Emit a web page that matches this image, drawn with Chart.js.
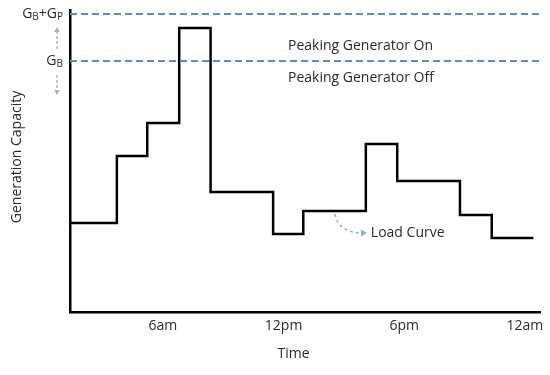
<!DOCTYPE html>
<html>
<head>
<meta charset="utf-8">
<script src="https://cdn.jsdelivr.net/npm/chart.js@4.4.1/dist/chart.umd.min.js"></script>
<style>
  html, body { margin: 0; padding: 0; background: #ffffff; }
  #wrap { width: 550px; height: 375px; }
</style>
</head>
<body>
<div id="wrap"><canvas id="c" width="550" height="375"></canvas></div>
<script>
// ---- data ----
const stepHours = [1.38, 3.71, 5.22, 6.81, 8.37, 11.48, 12.98, 16.09, 17.65, 20.77, 22.35, 24.42];
const loadValues = [8.9, 15.6, 18.9, 28.4, 12.0, 7.8, 10.1, 16.8, 13.1, 9.7, 7.4, 7.4];
const tickHours = [6, 12, 18, 24];
const tickLabels = ['6am', '12pm', '6pm', '12am'];
const baseCapacity = 25.1;      // G_B
const peakCapacity = 29.8;      // G_B + G_P
const hourRange = [1.38, 24.75];
const capacityRange = [0, 30.2];
const xTitle = 'Time';
const yTitle = 'Generation Capacity';
const noteOn = 'Peaking Generator On';
const noteOff = 'Peaking Generator Off';
const noteLoad = 'Load Curve';

const FONT = '"Open Sans", "Noto Sans", sans-serif';
const TXT = '#2b2b2b';
const BLUE = '#5b8dc6';

const loadPoints = stepHours.map((h, i) => ({ x: h, y: loadValues[i] }));
const hline = v => [{ x: hourRange[0], y: v }, { x: hourRange[1], y: v }];

function arrowHead(ctx, x, y, ang, size) {
  ctx.save();
  ctx.translate(x, y);
  ctx.rotate(ang);
  ctx.beginPath();
  ctx.moveTo(0, 0);
  ctx.lineTo(-size, -size * 0.6);
  ctx.lineTo(-size, size * 0.6);
  ctx.closePath();
  ctx.fill();
  ctx.restore();
}

const annotate = {
  id: 'annotate',
  afterDraw(chart) {
    const ctx = chart.ctx;
    const xs = chart.scales.x, ys = chart.scales.y;
    const ca = chart.chartArea;
    const X = v => xs.getPixelForValue(v);
    const Y = v => ys.getPixelForValue(v);
    ctx.save();
    ctx.fillStyle = TXT;
    ctx.textBaseline = 'middle';

    // y tick labels with subscripts
    function subLabel(parts, rightX, y) {
      let w = 0;
      parts.forEach(p => { ctx.font = (p.sub ? '10px ' : '14px ') + FONT; w += ctx.measureText(p.t).width; });
      let x = rightX - w;
      ctx.textAlign = 'left';
      parts.forEach(p => {
        ctx.font = (p.sub ? '10px ' : '14px ') + FONT;
        ctx.fillText(p.t, x, p.sub ? y + 3 : y);
        x += ctx.measureText(p.t).width;
      });
    }
    const labRight = ca.left - 7;
    subLabel([{t:'G'},{t:'B',sub:1},{t:'+'},{t:'G'},{t:'P',sub:1}], labRight, Y(peakCapacity));
    subLabel([{t:'G'},{t:'B',sub:1}], labRight, Y(baseCapacity));

    // grey double arrow between the two levels
    const ax = ca.left - 13;
    ctx.strokeStyle = '#b4b4b4';
    ctx.fillStyle = '#b4b4b4';
    ctx.lineWidth = 1.5;
    ctx.setLineDash([3, 2]);
    ctx.beginPath();
    ctx.moveTo(ax, Y(peakCapacity) + 17);
    ctx.lineTo(ax, Y(baseCapacity) - 11);
    ctx.moveTo(ax, Y(baseCapacity) + 14);
    ctx.lineTo(ax, Y(baseCapacity) + 30);
    ctx.stroke();
    ctx.setLineDash([]);
    arrowHead(ctx, ax, Y(peakCapacity) + 13, -Math.PI / 2, 5);
    arrowHead(ctx, ax, Y(baseCapacity) + 34, Math.PI / 2, 5);

    // texts
    ctx.fillStyle = TXT;
    ctx.font = '14px ' + FONT;
    ctx.textAlign = 'left';
    ctx.fillText(noteOn, X(12.22), Y(26.6));
    ctx.fillText(noteOff, X(12.22), Y(23.4));
    ctx.fillText(noteLoad, X(16.34), Y(7.9));

    // load curve pointer
    ctx.strokeStyle = '#8eb0dd';
    ctx.fillStyle = '#8eb0dd';
    ctx.lineWidth = 1.5;
    ctx.setLineDash([3, 3]);
    ctx.beginPath();
    ctx.moveTo(X(14.55), Y(9.8));
    ctx.quadraticCurveTo(X(14.75), Y(7.95), X(15.9), Y(7.9));
    ctx.stroke();
    ctx.setLineDash([]);
    arrowHead(ctx, X(16.15), Y(7.9), 0, 6);

    // axis titles
    ctx.fillStyle = TXT;
    ctx.font = '14px ' + FONT;
    ctx.textAlign = 'center';
    ctx.fillText(xTitle, X(12.5), ca.bottom + 42);
    ctx.save();
    ctx.translate(17, Y(15.5));
    ctx.rotate(-Math.PI / 2);
    ctx.fillText(yTitle, 0, 0);
    ctx.restore();
    ctx.restore();
  }
};

new Chart(document.getElementById('c'), {
  type: 'line',
  data: {
    datasets: [
      { data: hline(peakCapacity), borderColor: BLUE, borderWidth: 2, borderDash: [7, 4], pointRadius: 0 },
      { data: hline(baseCapacity), borderColor: BLUE, borderWidth: 2, borderDash: [7, 4], pointRadius: 0 },
      { data: loadPoints, stepped: 'before', borderColor: '#000000', borderWidth: 2.5, pointRadius: 0, borderJoinStyle: 'miter' }
    ]
  },
  options: {
    responsive: false,
    animation: false,
    events: [],
    layout: { padding: { top: 10, right: 10, left: 0, bottom: 0 } },
    plugins: { legend: { display: false }, tooltip: { enabled: false }, title: { display: false } },
    scales: {
      x: {
        type: 'linear',
        min: hourRange[0], max: hourRange[1],
        afterBuildTicks: s => { s.ticks = tickHours.map(v => ({ value: v })); },
        afterFit: s => { s.height = 63; },
        grid: { display: false, drawTicks: false },
        border: { display: true, color: '#000000', width: 2.5 },
        ticks: {
          autoSkip: false, maxRotation: 0, padding: 6,
          color: TXT, font: { family: FONT, size: 14 },
          callback: v => tickLabels[tickHours.indexOf(v)] ?? ''
        }
      },
      y: {
        type: 'linear',
        min: capacityRange[0], max: capacityRange[1],
        afterFit: s => { s.width = 70; },
        grid: { display: false, drawTicks: false },
        border: { display: true, color: '#000000', width: 2.5 },
        ticks: { display: false }
      }
    }
  },
  plugins: [annotate]
});
</script>
</body>
</html>
